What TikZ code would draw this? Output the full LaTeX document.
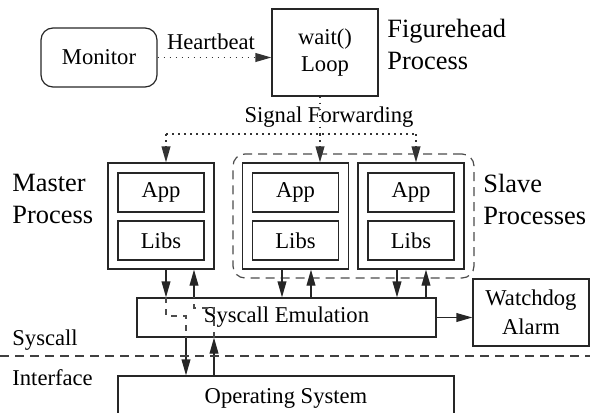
\documentclass[tikz,border=0pt]{standalone}
\usepackage{fontspec}
\setmainfont{Liberation Serif}
\usetikzlibrary{arrows.meta,positioning}
\begin{document}
\begin{tikzpicture}[x=0.5pt,y=-0.5pt,
  every node/.style={font=\fontsize{11.3}{13.5}\selectfont, inner sep=0pt},
  box/.style={draw=black!85, line width=0.6pt, align=center},
  lbl/.style={anchor=west, align=left, font=\fontsize{13.2}{16}\selectfont},
  tip/.style={-{Triangle[length=8pt,width=4.4pt]}},
  arr/.style={line width=0.6pt, draw=black!85, tip},
  dotline/.style={line width=0.7pt, draw=black!80, dash pattern=on 0.8pt off 2.2pt},
  dashline/.style={line width=0.6pt, draw=black!75, dash pattern=on 4.5pt off 3pt},
  dashsmall/.style={line width=0.6pt, draw=black!70, dash pattern=on 3pt off 3pt}]
\useasboundingbox (0,0) rectangle (590,413);
\clip (0,0) rectangle (590,413);
% nodes
\node[box, rounded corners=6pt, minimum width=58pt, minimum height=29.5pt] (mon) at (99,57.5) {Monitor};
\node[box, minimum width=53pt, minimum height=43.5pt] (fig) at (325,52.5) {wait()\\Loop};
\node[lbl] (figl) at (387,44) {Figurehead\\Process};
\node (hb) at (211,42) {Heartbeat};
\node (sfl) at (329,117) {Signal Forwarding};

\node[draw=black!70, line width=0.6pt, dash pattern=on 4.5pt off 3pt, rounded corners=6pt, minimum width=120.5pt, minimum height=62pt] (slaves) at (353.5,216) {};
\node[box, minimum width=53pt, minimum height=53pt] (master) at (161,216) {};
\node[box, minimum width=43pt, minimum height=19.5pt] (mapp) at (161,192.5) {App};
\node[box, minimum width=43pt, minimum height=19.5pt] (mlib) at (161,240.5) {Libs};
\node[box, minimum width=53pt, minimum height=53pt] (s1) at (295.5,216) {};
\node[box, minimum width=43pt, minimum height=19.5pt] (s1app) at (295.5,192.5) {App};
\node[box, minimum width=43pt, minimum height=19.5pt] (s1lib) at (295.5,240.5) {Libs};
\node[box, minimum width=53pt, minimum height=53pt] (s2) at (411,216) {};
\node[box, minimum width=43pt, minimum height=19.5pt] (s2app) at (411,192.5) {App};
\node[box, minimum width=43pt, minimum height=19.5pt] (s2lib) at (411,240.5) {Libs};
\node[lbl] (ml) at (12,199) {Master\\Process};
\node[lbl] (sl) at (483,199) {Slave\\Processes};

\node[box, minimum width=149.5pt, minimum height=19.5pt] (sys) at (286.5,317.5) {Syscall Emulation};
\node[box, minimum width=58pt, minimum height=33.5pt, font=\fontsize{11.3}{14.5}\selectfont] (wd) at (531,312.5) {Watchdog\\Alarm};
\node[box, minimum width=168pt, minimum height=22pt] (os) at (286,398) {Operating System};
\node[anchor=west] (scl) at (12,340) {Syscall};
\node[anchor=west] (ifl) at (12,378) {Interface};

% coordinates
\coordinate (sf) at (320,134);
\coordinate (sfL) at (166,134);
\coordinate (sfR) at (416,134);
\coordinate (a1) at (166,0); \coordinate (b1) at (194,0);
\coordinate (a2) at (282,0); \coordinate (b2) at (311,0);
\coordinate (a3) at (397,0); \coordinate (b3) at (426,0);
\coordinate (c1) at (186,0); \coordinate (d1) at (214,0);
\coordinate (hl) at (0,356); \coordinate (hr) at (590,356);
\coordinate (k1) at (166,316); \coordinate (k2) at (186,316);
\coordinate (k3) at (214,308); \coordinate (k4) at (194,308);

% heartbeat
\draw[dotline, tip] (mon.east) -- (mon.east -| fig.west);
% signal forwarding
\draw[dotline] (fig.south -| sf) -- (sf);
\draw[dotline] (sfL) -- (sfR);
\draw[dotline, tip] (sfL) -- (sfL |- master.north);
\draw[dotline, tip] (sf) -- (sf |- s1.north);
\draw[dotline, tip] (sfR) -- (sfR |- s2.north);

% process <-> syscall
\draw[arr] (a1 |- master.south) -- (a1 |- sys.north);
\draw[arr] (b1 |- sys.north) -- (b1 |- master.south);
\draw[arr] (a2 |- s1.south) -- (a2 |- sys.north);
\draw[arr] (b2 |- sys.north) -- (b2 |- s1.south);
\draw[arr] (a3 |- s2.south) -- (a3 |- sys.north);
\draw[arr] (b3 |- sys.north) -- (b3 |- s2.south);

% internal dashed
\draw[dashsmall] (a1 |- sys.north) -- (k1) -- (k2) -- (k2 |- sys.south);
\draw[dashsmall] (d1 |- sys.south) -- (k3) -- (k4) -- (k4 |- sys.north);

% syscall <-> os
\draw[arr] (c1 |- sys.south) -- (c1 |- os.north);
\draw[arr] (d1 |- os.north) -- (d1 |- sys.south);

% watchdog
\draw[arr] (sys.east) -- (sys.east -| wd.west);

% interface line
\draw[dashline] (hl) -- (hr);
\end{tikzpicture}
\end{document}
